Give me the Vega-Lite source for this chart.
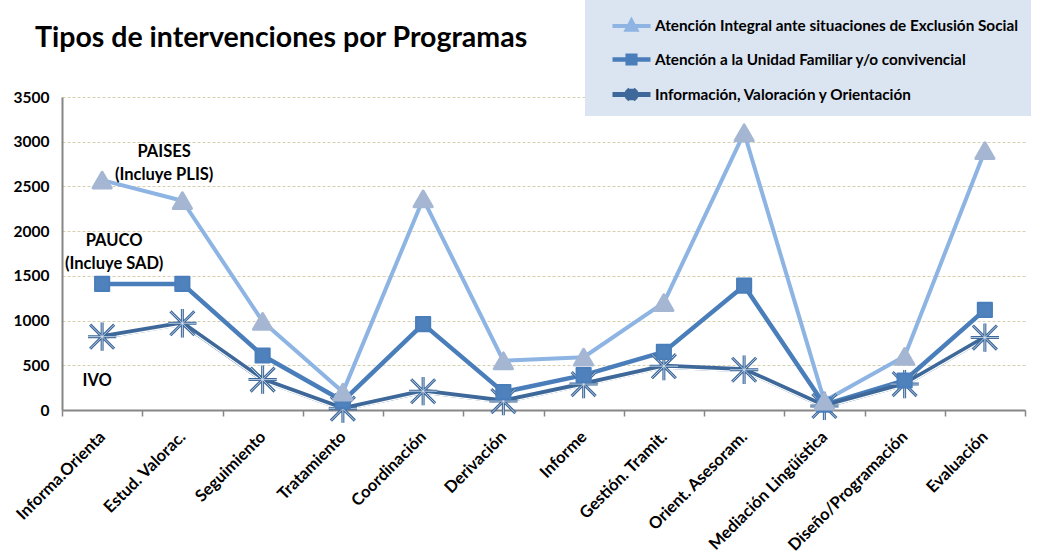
{
  "$schema": "https://vega.github.io/schema/vega-lite/v6.json",
  "width": 963,
  "height": 313,
  "autosize": "none",
  "padding": {"left": 62, "top": 97, "right": 14, "bottom": 146},
  "background": "white",
  "title": {"text": "Tipos de intervenciones por Programas", "anchor": "start", "frame": "group", "font": "Lato", "fontSize": 28.5, "fontWeight": "bold", "color": "#000000", "dx": -27, "offset": -52},
  "config": {"view": {"stroke": null}},
  "datasets": {
    "main": [
      {"cat": "Informa.Orienta", "serie": "Atención Integral ante situaciones  de Exclusión  Social", "value": 2570},
      {"cat": "Estud. Valorac.", "serie": "Atención Integral ante situaciones  de Exclusión  Social", "value": 2340},
      {"cat": "Seguimiento", "serie": "Atención Integral ante situaciones  de Exclusión  Social", "value": 990},
      {"cat": "Tratamiento", "serie": "Atención Integral ante situaciones  de Exclusión  Social", "value": 200},
      {"cat": "Coordinación", "serie": "Atención Integral ante situaciones  de Exclusión  Social", "value": 2360},
      {"cat": "Derivación", "serie": "Atención Integral ante situaciones  de Exclusión  Social", "value": 550},
      {"cat": "Informe", "serie": "Atención Integral ante situaciones  de Exclusión  Social", "value": 590},
      {"cat": "Gestión. Tramit.", "serie": "Atención Integral ante situaciones  de Exclusión  Social", "value": 1200},
      {"cat": "Orient. Asesoram.", "serie": "Atención Integral ante situaciones  de Exclusión  Social", "value": 3100},
      {"cat": "Mediación  Lingüística", "serie": "Atención Integral ante situaciones  de Exclusión  Social", "value": 100},
      {"cat": "Diseño/Programación", "serie": "Atención Integral ante situaciones  de Exclusión  Social", "value": 600},
      {"cat": "Evaluación", "serie": "Atención Integral ante situaciones  de Exclusión  Social", "value": 2900},
      {"cat": "Informa.Orienta", "serie": "Atención a la Unidad Familiar  y/o convivencial", "value": 1410},
      {"cat": "Estud. Valorac.", "serie": "Atención a la Unidad Familiar  y/o convivencial", "value": 1410},
      {"cat": "Seguimiento", "serie": "Atención a la Unidad Familiar  y/o convivencial", "value": 610},
      {"cat": "Tratamiento", "serie": "Atención a la Unidad Familiar  y/o convivencial", "value": 100},
      {"cat": "Coordinación", "serie": "Atención a la Unidad Familiar  y/o convivencial", "value": 960},
      {"cat": "Derivación", "serie": "Atención a la Unidad Familiar  y/o convivencial", "value": 200},
      {"cat": "Informe", "serie": "Atención a la Unidad Familiar  y/o convivencial", "value": 390},
      {"cat": "Gestión. Tramit.", "serie": "Atención a la Unidad Familiar  y/o convivencial", "value": 650},
      {"cat": "Orient. Asesoram.", "serie": "Atención a la Unidad Familiar  y/o convivencial", "value": 1390},
      {"cat": "Mediación  Lingüística", "serie": "Atención a la Unidad Familiar  y/o convivencial", "value": 60},
      {"cat": "Diseño/Programación", "serie": "Atención a la Unidad Familiar  y/o convivencial", "value": 330},
      {"cat": "Evaluación", "serie": "Atención a la Unidad Familiar  y/o convivencial", "value": 1120},
      {"cat": "Informa.Orienta", "serie": "Información, Valoración  y Orientación", "value": 820},
      {"cat": "Estud. Valorac.", "serie": "Información, Valoración  y Orientación", "value": 970},
      {"cat": "Seguimiento", "serie": "Información, Valoración  y Orientación", "value": 340},
      {"cat": "Tratamiento", "serie": "Información, Valoración  y Orientación", "value": 15},
      {"cat": "Coordinación", "serie": "Información, Valoración  y Orientación", "value": 210},
      {"cat": "Derivación", "serie": "Información, Valoración  y Orientación", "value": 100},
      {"cat": "Informe", "serie": "Información, Valoración  y Orientación", "value": 290},
      {"cat": "Gestión. Tramit.", "serie": "Información, Valoración  y Orientación", "value": 490},
      {"cat": "Orient. Asesoram.", "serie": "Información, Valoración  y Orientación", "value": 450},
      {"cat": "Mediación  Lingüística", "serie": "Información, Valoración  y Orientación", "value": 45},
      {"cat": "Diseño/Programación", "serie": "Información, Valoración  y Orientación", "value": 290},
      {"cat": "Evaluación", "serie": "Información, Valoración  y Orientación", "value": 810}
    ]
  },
  "data": {"name": "main"},
  "encoding": {
    "x": {"field": "cat", "type": "nominal", "sort": null,
      "scale": {"type": "band", "paddingInner": 0, "paddingOuter": 0},
      "axis": {"title": null, "labelAngle": -45, "labelAlign": "right", "labelBaseline": "middle", "labelFont": "Lato", "labelFontSize": 16.5, "labelFontWeight": "bold", "labelColor": "#000000", "labelPadding": 18, "labelLimit": 300, "tickBand": "extent", "tickColor": "#868686", "tickSize": 6, "tickWidth": 1.5, "domainColor": "#868686", "domainWidth": 2, "grid": false}},
    "y": {"field": "value", "type": "quantitative",
      "scale": {"domain": [0, 3500], "nice": false},
      "axis": {"title": null, "values": [0, 500, 1000, 1500, 2000, 2500, 3000, 3500], "format": "d", "labelFont": "Lato", "labelFontSize": 15.5, "labelFontWeight": "bold", "labelColor": "#000000", "labelPadding": 13, "ticks": false, "domainColor": "#868686", "domainWidth": 2, "grid": true, "gridColor": "#d6cfae", "gridDash": [3, 2], "gridWidth": 1}}
  },
  "layer": [
    {
      "mark": {"type": "line", "strokeJoin": "round"},
      "encoding": {
        "color": {"field": "serie", "type": "nominal",
          "scale": {"domain": ["Atención Integral ante situaciones  de Exclusión  Social", "Atención a la Unidad Familiar  y/o convivencial", "Información, Valoración  y Orientación"], "range": ["#8db4e2", "#4a7ebb", "#3d6899"]},
          "legend": {"title": null, "orient": "none", "legendX": 523, "legendY": -97, "fillColor": "#dbe5f1", "padding": 5, "symbolOffset": 20, "labelFont": "Lato", "labelFontSize": 15.3, "labelFontWeight": "bold", "labelColor": "#000000", "labelLimit": 500, "labelOffset": 2, "rowPadding": -5, "symbolSize": 1444, "symbolStrokeWidth": 3,
            "encode": {"symbols": {"update": {
              "shape": {"signal": "datum.index === 0 ? 'M-1,0H1M0,-0.27L0.25,0.2L-0.25,0.2Z' : datum.index === 1 ? 'M-1,0H1M-0.2,-0.2H0.2V0.2H-0.2Z' : 'M-1,0H1M0,-0.3V0.3M-0.26,-0.26L0.26,0.26M-0.26,0.26L0.26,-0.26'"},
              "fill": {"signal": "datum.index === 0 ? '#a5b6d3' : datum.index === 1 ? '#4f81bd' : 'transparent'"},
              "stroke": {"signal": "datum.index === 0 ? '#8db4e2' : datum.index === 1 ? '#4a7ebb' : '#3d6899'"},
              "strokeWidth": {"value": 4}
            }}}}},
        "strokeWidth": {"field": "serie", "type": "ordinal", "scale": {"domain": ["Atención Integral ante situaciones  de Exclusión  Social", "Atención a la Unidad Familiar  y/o convivencial", "Información, Valoración  y Orientación"], "range": [4, 5, 7]}, "legend": null}
      }
    },
    {
      "transform": [{"filter": "datum.serie === 'Información, Valoración  y Orientación'"}],
      "mark": {"type": "line", "color": "#ffffff", "strokeWidth": 1.3, "yOffset": 2, "strokeJoin": "round"}
    },
    {
      "transform": [{"filter": "datum.serie === 'Información, Valoración  y Orientación'"}],
      "mark": {"type": "point", "shape": "M0,-1V1M-0.85,-0.85L0.85,0.85M-0.85,0.85L0.85,-0.85M-1,0H1", "filled": false, "size": 800, "stroke": "#3d6899", "strokeWidth": 3, "opacity": 1}
    },
    {
      "transform": [{"filter": "datum.serie === 'Información, Valoración  y Orientación'"}],
      "mark": {"type": "point", "shape": "M0,-1V1M-0.85,-0.85L0.85,0.85M-0.85,0.85L0.85,-0.85M-1,0H1", "filled": false, "size": 800, "stroke": "#dce6f2", "strokeWidth": 0.8, "opacity": 1}
    },
    {
      "transform": [{"filter": "datum.serie === 'Atención a la Unidad Familiar  y/o convivencial'"}],
      "mark": {"type": "point", "shape": "square", "filled": true, "size": 200, "fill": "#4f81bd", "stroke": "#4a7ebb", "strokeWidth": 2, "strokeJoin": "round", "opacity": 1}
    },
    {
      "transform": [{"filter": "datum.serie === 'Atención Integral ante situaciones  de Exclusión  Social'"}],
      "mark": {"type": "point", "shape": "triangle-up", "filled": true, "size": 330, "fill": "#a5b6d3", "stroke": "#a5b6d3", "strokeWidth": 3, "strokeJoin": "round", "opacity": 1}
    },
    {
      "data": {"values": [{"cat": "Informa.Orienta", "value": 2880, "label": ["PAISES", "(Incluye PLIS)"]}]},
      "mark": {"type": "text", "font": "Lato", "fontSize": 16.5, "fontWeight": "bold", "color": "#000000", "align": "center", "baseline": "middle", "lineHeight": 23, "dx": 62},
      "encoding": {"text": {"field": "label"}}
    },
    {
      "data": {"values": [{"cat": "Informa.Orienta", "value": 1890, "label": ["PAUCO", "(Incluye SAD)"]}]},
      "mark": {"type": "text", "font": "Lato", "fontSize": 16.5, "fontWeight": "bold", "color": "#000000", "align": "center", "baseline": "middle", "lineHeight": 23, "dx": 12},
      "encoding": {"text": {"field": "label"}}
    },
    {
      "data": {"values": [{"cat": "Informa.Orienta", "value": 324, "label": "IVO"}]},
      "mark": {"type": "text", "font": "Lato", "fontSize": 16.5, "fontWeight": "bold", "color": "#000000", "align": "center", "baseline": "middle", "dx": -5},
      "encoding": {"text": {"field": "label"}}
    }
  ]
}
